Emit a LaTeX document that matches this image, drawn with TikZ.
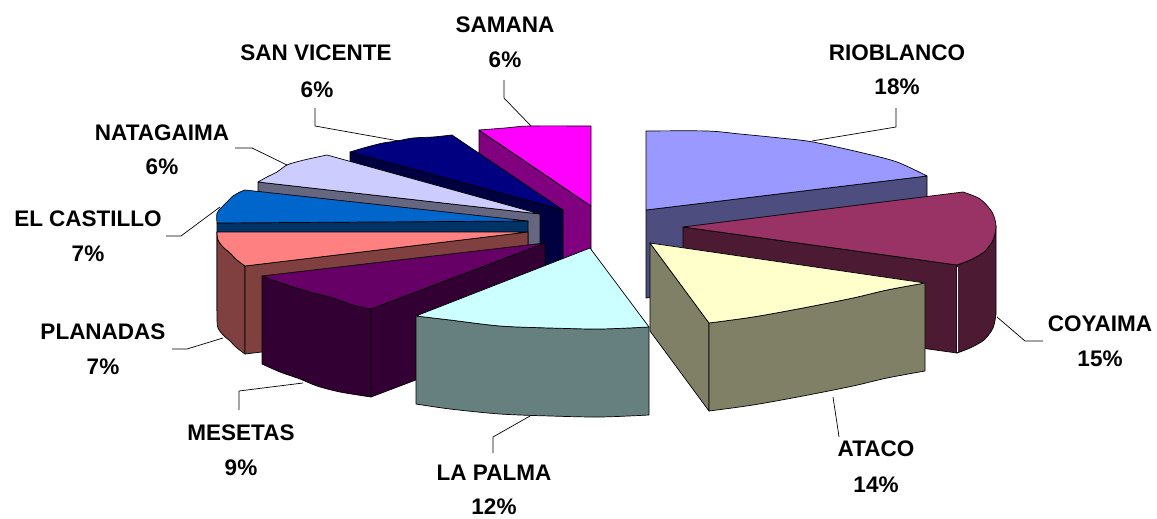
\documentclass[tikz,border=0pt]{standalone}
\usepackage{fontspec}
\setmainfont{Liberation Sans}
\definecolor{rioT}{HTML}{9999FF}\definecolor{rioS}{HTML}{4D4D80}
\definecolor{coyT}{HTML}{993366}\definecolor{coyS}{HTML}{4D1A33}
\definecolor{ataT}{HTML}{FFFFCC}\definecolor{ataS}{HTML}{808066}
\definecolor{palT}{HTML}{CCFFFF}\definecolor{palS}{HTML}{668080}
\definecolor{mesT}{HTML}{660066}\definecolor{mesS}{HTML}{330033}
\definecolor{plaT}{HTML}{FF8080}\definecolor{plaS}{HTML}{804040}
\definecolor{casT}{HTML}{0066CC}\definecolor{casS}{HTML}{003366}
\definecolor{natT}{HTML}{CCCCFF}\definecolor{natS}{HTML}{666680}
\definecolor{svT}{HTML}{000080}\definecolor{svS}{HTML}{000040}
\definecolor{samT}{HTML}{FF00FF}\definecolor{samS}{HTML}{800080}
\begin{document}
\begin{tikzpicture}[x=1pt,y=-1pt,line join=round,
  face/.style={draw=black,line width=0.7pt},
  lab/.style={font=\fontsize{22.5}{27}\selectfont\bfseries,anchor=base,inner sep=0pt},
  leader/.style={draw=black,line width=0.7pt}]
\useasboundingbox[fill=white] (0,0) rectangle (1157,519);

% ---------- RIOBLANCO
\filldraw[face,fill=rioS] (646,210) -- (927,176) -- (927,264) -- (646,298) -- cycle;
\filldraw[face,fill=rioT] plot[smooth] coordinates {(646,131) (707,131) (740,134) (780,138) (813,142) (863,153) (897,162) (927,176)} -- (646,210) -- cycle;

% ---------- COYAIMA
\filldraw[face,fill=coyS] (683,227) -- (957,265) -- (957,353) -- (683,315) -- cycle;
\filldraw[face,fill=coyS] plot[smooth] coordinates {(957,265) (970,260) (984,252) (993,240) (996,226)} -- (996,314) -- plot[smooth] coordinates {(996,314) (993,328) (984,340) (970,348) (957,353)} -- cycle;
\draw[white,line width=1pt] (957,267) -- (957,352);
\filldraw[face,fill=coyT] (683,227) -- plot[smooth] coordinates {(963,192) (980,199) (992,212) (996,226) (993,240) (984,252) (970,260) (957,265)} -- cycle;

% ---------- ATACO
\filldraw[face,fill=ataS] (650,243) -- (709,323) -- (709,411) -- (650,331) -- cycle;
\filldraw[face,fill=ataS] plot[smooth] coordinates {(709,323) (753,317) (803,308) (853,298) (887,290) (925,283)} -- (925,371) -- plot[smooth] coordinates {(925,371) (887,378) (853,386) (803,396) (753,405) (709,411)} -- cycle;
\filldraw[face,fill=ataT] (650,243) -- (925,283) -- plot[smooth] coordinates {(925,283) (887,290) (853,298) (803,308) (753,317) (709,323)} -- cycle;

% ---------- SAMANA
\filldraw[face,fill=samS] (479,130) -- (591,206) -- (591,294) -- (479,218) -- cycle;
\filldraw[face,fill=samT] plot[smooth] coordinates {(479,130) (505,128) (530,126) (591,126)} -- (591,206) -- cycle;

% ---------- SAN VICENTE
\filldraw[face,fill=svS] (350,152) -- (563,210) -- (563,298) -- (350,240) -- cycle;
\filldraw[face,fill=svT] plot[smooth] coordinates {(350,152) (367,147) (383,143) (397,141) (413,138) (433,137) (452,135)} -- (563,210) -- cycle;

% ---------- NATAGAIMA
\filldraw[face,fill=natS] (258,182) -- (540,214) -- (540,302) -- (258,270) -- cycle;
\filldraw[face,fill=natT] plot[smooth] coordinates {(258,182) (267,177) (277,172) (287,165) (300,161) (313,158) (327,155)} -- (540,214) -- cycle;

% ---------- EL CASTILLO
\filldraw[face,fill=casS] (217,223) -- (528,221) -- (528,309) -- (217,311) -- cycle;
\filldraw[face,fill=casT] plot[smooth] coordinates {(217,223) (217,213) (222,207) (227,202) (233,196) (240,192) (245,190)} -- (528,221) -- cycle;

% ---------- PLANADAS
\filldraw[face,fill=plaS] plot[smooth] coordinates {(217,232) (218,240) (223,247) (230,253) (237,260) (245,266)} -- (245,354) -- plot[smooth] coordinates {(245,354) (237,348) (230,341) (223,335) (218,328) (217,320)} -- cycle;
\filldraw[face,fill=plaS] (245,266) -- (528,232) -- (528,320) -- (245,354) -- cycle;
\filldraw[face,fill=plaT] (528,232) -- (245,266) -- plot[smooth] coordinates {(245,266) (237,260) (230,253) (223,247) (218,240) (217,232)} -- cycle;

% ---------- MESETAS
\filldraw[face,fill=mesS] (371,309) -- (545,243) -- (545,331) -- (371,397) -- cycle;
\filldraw[face,fill=mesS] plot[smooth] coordinates {(262,276) (287,285) (310,292) (333,298) (353,305) (371,309)} -- (371,397) -- plot[smooth] coordinates {(371,397) (340,392) (317,386) (300,379) (280,372) (262,364)} -- cycle;
\filldraw[face,fill=mesT] (545,243) -- (371,309) -- plot[smooth] coordinates {(371,309) (353,305) (333,298) (310,292) (287,285) (262,276)} -- cycle;

% ---------- LA PALMA
\filldraw[face,fill=palS] plot[smooth] coordinates {(649,327) (600,329) (550,328) (500,326) (450,320) (416,316)} -- (416,404) -- plot[smooth] coordinates {(416,404) (450,409) (500,414) (550,416) (600,417) (649,415)} -- cycle;
\filldraw[face,fill=palT] (590,248) -- (649,327) -- plot[smooth] coordinates {(649,327) (600,329) (550,328) (500,326) (450,320) (416,316)} -- cycle;

% ---------- labels
\node[lab] (rioN) at (897,60) {RIOBLANCO};
\node[lab] (rioP) at (897,95) {18\%};
\node[lab] (samN) at (505,33) {SAMANA};
\node[lab] (samP) at (505,68) {6\%};
\node[lab] (svN) at (316,61) {SAN VICENTE};
\node[lab] (svP) at (317,97) {6\%};
\node[lab] (natN) at (162,140) {NATAGAIMA};
\node[lab] (natP) at (162,174) {6\%};
\node[lab] (casN) at (88,226) {EL CASTILLO};
\node[lab] (casP) at (88,261) {7\%};
\node[lab] (plaN) at (103,339) {PLANADAS};
\node[lab] (plaP) at (103,374) {7\%};
\node[lab] (mesN) at (241,440) {MESETAS};
\node[lab] (mesP) at (241,475) {9\%};
\node[lab] (palN) at (494,480) {LA PALMA};
\node[lab] (palP) at (494,514) {12\%};
\node[lab] (ataN) at (876,456) {ATACO};
\node[lab] (ataP) at (876,492) {14\%};
\node[lab] (coyN) at (1100,331) {COYAIMA};
\node[lab] (coyP) at (1100,366) {15\%};

% ---------- leaders
\coordinate (rioA) at (896,108); \coordinate (rioB) at (896,127); \coordinate (rioC) at (812,141);
\coordinate (samA) at (504,80);  \coordinate (samB) at (504,98);  \coordinate (samC) at (531,126);
\coordinate (svA) at (315,108);  \coordinate (svB) at (315,126);  \coordinate (svC) at (399,141);
\coordinate (natA) at (235,148); \coordinate (natB) at (252,148); \coordinate (natC) at (287,165);
\coordinate (casA) at (166,236); \coordinate (casB) at (181,236); \coordinate (casC) at (220,207);
\coordinate (plaA) at (172,349); \coordinate (plaB) at (187,349); \coordinate (plaC) at (223,338);
\coordinate (mesA) at (239,410); \coordinate (mesB) at (239,391); \coordinate (mesC) at (303,383);
\coordinate (palA) at (493,453); \coordinate (palB) at (493,437); \coordinate (palC) at (530,416);
\coordinate (ataA) at (839,437); \coordinate (ataB) at (838,430); \coordinate (ataC) at (833,397);
\coordinate (coyA) at (1043,341);\coordinate (coyB) at (1025,341);\coordinate (coyC) at (997,317);
\foreach \p in {rio,sam,sv,nat,cas,pla,mes,pal,ata,coy}
  \draw[leader] (\p A) -- (\p B) -- (\p C);
\end{tikzpicture}
\end{document}
